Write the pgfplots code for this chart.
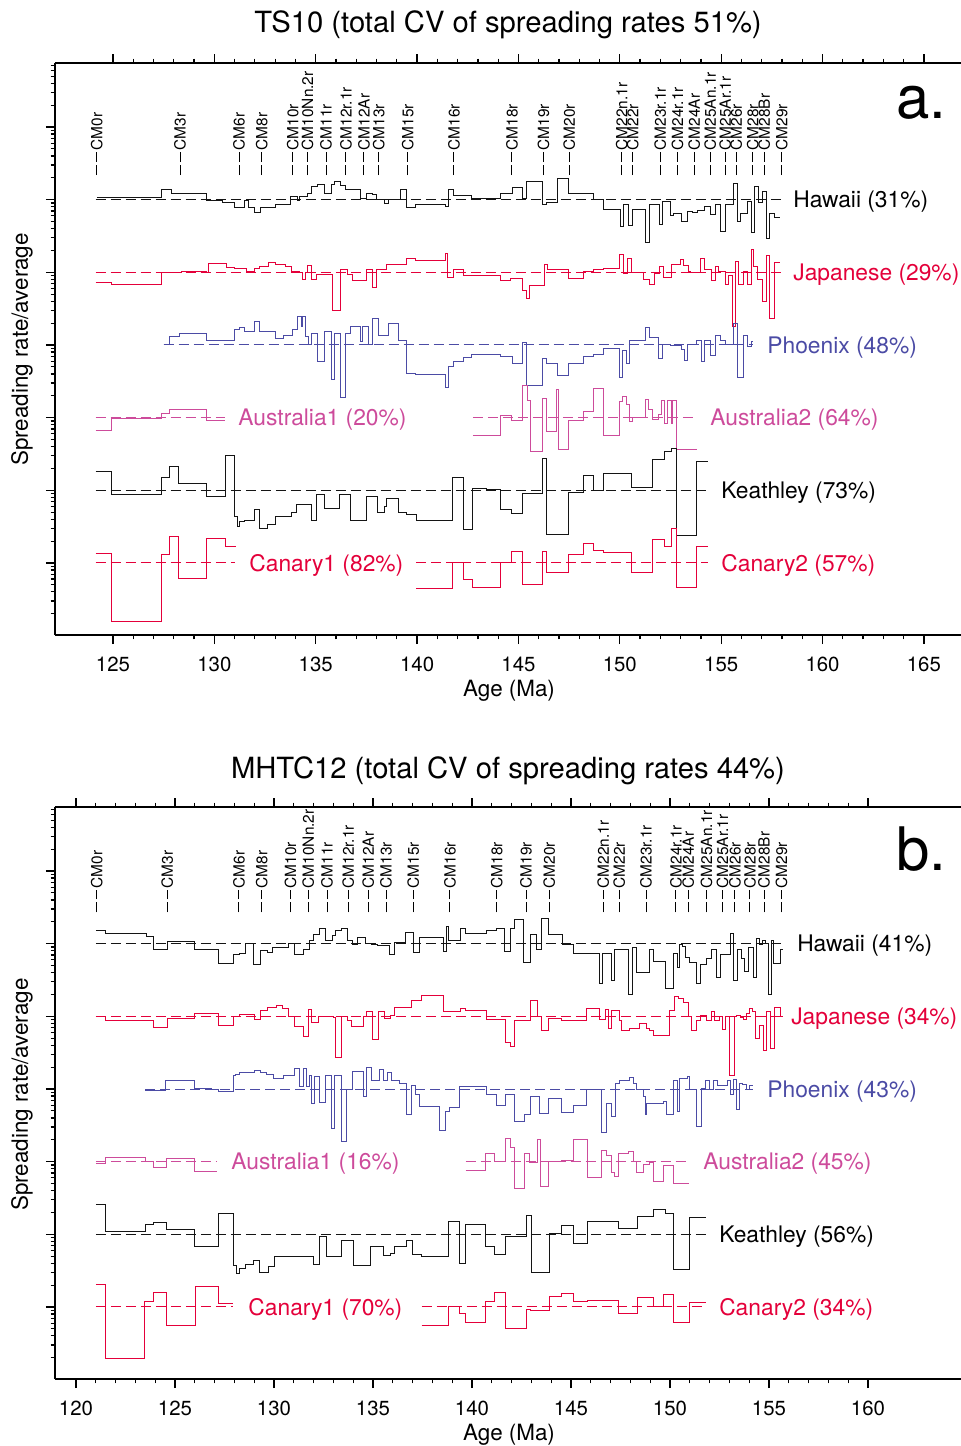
\documentclass[border=0pt]{standalone}
\usepackage{fontspec}
\setmainfont{TeX Gyre Heros}
\usepackage{pgfplots}
\usepackage{pgfplotstable}
\pgfplotsset{compat=1.18}
\definecolor{cred}{RGB}{228,0,58}
\definecolor{cblue}{RGB}{75,75,165}
\definecolor{cpink}{RGB}{205,75,155}
\definecolor{cblk}{RGB}{20,20,20}

\pgfplotstableread{
x r
124.2 1.07
127.4 1.37
127.9 1.23
129.6 0.98
130.4 0.90
131.0 0.77
131.5 0.98
131.7 0.77
132.0 0.67
132.3 0.77
133.0 0.85
133.75 1.11
134.1 0.98
134.2 1.11
134.6 1.23
134.8 1.52
135.1 1.61
135.45 1.23
135.8 1.61
135.95 1.77
136.2 1.55
136.45 1.37
137.2 1.05
137.5 1.23
137.8 1.18
138.0 1.0
138.4 0.88
138.6 1.02
139.2 1.37
139.5 0.77
139.9 0.85
141.4 0.80
141.55 1.40
141.8 1.13
142.7 1.05
144.1 1.23
144.7 1.47
145.2 1.05
145.4 1.77
146.2 0.85
146.4 0.92
146.95 1.93
147.45 1.20
148.7 1.0
149.2 0.74
150.05 0.43
150.2 0.85
150.45 0.44
150.65 0.74
151.25 0.26
151.45 0.85
151.95 0.45
152.1 0.95
152.5 0.60
152.65 0.64
153.05 0.50
153.35 0.69
153.6 0.66
153.85 0.71
154.2 0.81
154.45 0.62
154.7 0.85
154.95 0.36
155.2 0.85
155.6 1.69
155.8 0.50
155.95 0.65
156.3 0.95
156.5 0.35
156.65 1.50
156.85 0.90
157.05 1.30
157.25 0.29
157.4 0.65
157.65 0.57
157.9 0.57
}\HawA
\pgfplotstableread{
x r
124.15 0.72
124.95 0.68
127.4 0.98
127.6 1.0
128.4 1.03
129.6 1.0
129.7 1.32
130.6 1.16
131.0 1.12
131.6 1.04
132.0 1.12
132.25 1.20
132.65 1.36
133.0 1.29
133.5 1.20
133.8 1.04
134.2 0.98
134.35 0.79
134.5 0.98
134.6 1.25
134.8 0.79
135.05 0.94
135.85 0.30
136.2 1.11
136.55 0.94
136.8 0.77
137.5 1.11
137.8 0.61
138.0 1.11
138.5 1.27
139.5 1.57
139.9 1.45
141.4 1.80
141.5 0.85
141.8 1.08
142.3 0.90
144.1 0.77
144.6 0.81
145.2 0.57
145.4 0.43
145.55 0.65
146.3 1.30
146.45 1.11
147.45 0.81
148.2 1.03
148.7 1.08
149.2 1.14
150.0 1.75
150.2 0.95
150.4 1.57
150.6 1.0
151.15 0.79
151.45 0.67
151.7 0.97
151.95 1.20
152.15 0.85
152.55 1.27
153.0 1.52
153.15 1.25
153.4 1.03
153.5 1.0
154.0 1.57
154.2 1.08
154.5 0.77
154.7 1.20
154.85 1.04
155.2 0.69
155.35 0.90
155.55 0.18
155.7 1.40
155.85 0.69
156.1 1.04
156.3 0.69
156.5 2.05
156.6 1.20
156.8 0.79
157.05 0.40
157.25 1.70
157.4 0.23
157.65 1.37
157.9 1.37
}\JapA
\pgfplotstableread{
x r
127.5 1.0
127.8 1.30
128.3 1.42
129.6 1.17
131.0 1.61
131.25 1.75
131.5 1.53
132.0 2.09
132.25 1.53
133.0 1.23
133.4 1.37
133.85 1.61
134.1 2.45
134.3 1.79
134.35 2.45
134.5 1.30
134.65 1.0
134.8 1.45
135.1 0.59
135.45 1.53
135.8 0.33
135.95 1.45
136.2 0.19
136.45 1.45
136.7 1.80
137.2 1.11
137.3 1.80
137.6 1.0
137.8 2.3
138.1 1.37
138.6 1.95
139.1 1.17
139.5 0.41
139.9 0.39
141.4 0.26
141.55 0.50
141.8 0.60
142.3 0.67
142.7 0.75
144.1 0.69
144.7 0.55
145.2 1.07
145.4 0.28
146.2 0.65
146.4 0.55
146.95 0.38
147.45 0.55
148.2 0.69
148.7 0.73
149.2 0.90
150.0 0.36
150.15 0.85
150.35 0.55
150.5 1.17
151.25 1.75
151.45 1.27
151.9 0.65
152.1 1.02
152.5 0.97
153.05 0.88
153.2 0.62
153.35 1.0
153.8 1.17
154.05 0.59
154.2 1.17
154.45 0.72
154.7 1.33
154.95 1.17
155.2 1.02
155.6 2.0
155.8 0.36
156.1 1.37
156.3 0.95
156.5 1.10
156.55 1.10
}\PhoA
\pgfplotstableread{
x r
124.15 0.66
124.95 0.96
127.4 1.15
127.8 1.30
129.6 0.90
130.55 0.90
}\AusOneA
\pgfplotstableread{
x r
142.75 0.56
144.1 1.06
144.65 0.91
145.2 2.73
145.45 1.71
145.6 0.34
146.2 1.84
146.4 0.64
146.9 2.45
147.0 0.36
147.45 0.90
148.2 1.21
148.7 2.53
149.2 0.56
150.0 1.65
150.15 1.98
150.35 1.50
150.5 0.88
150.65 1.02
151.25 1.75
151.4 1.28
151.6 0.95
151.9 1.12
152.07 1.70
152.2 0.83
152.35 1.70
152.55 0.83
152.62 1.70
152.8 0.36
153.8 0.36
}\AusTwoA
\pgfplotstableread{
x r
124.15 1.79
124.95 0.88
127.4 1.49
127.8 2.14
128.25 1.23
129.6 0.81
130.55 3.03
131.0 0.43
131.15 0.32
131.25 0.37
131.5 0.38
132.0 0.54
132.25 0.30
132.6 0.34
133.0 0.44
133.8 0.50
134.05 0.63
134.8 0.39
135.05 0.88
135.45 0.56
136.15 0.88
136.7 0.39
137.5 0.83
138.05 0.50
138.4 0.60
138.5 0.78
139.1 0.50
139.5 0.47
139.95 0.39
141.75 1.49
142.3 0.29
142.75 1.05
143.4 1.03
144.1 0.54
144.65 0.48
145.2 0.90
146.2 2.73
146.4 0.25
147.45 0.94
148.2 1.60
148.7 0.98
149.2 1.68
150.6 1.11
151.6 2.64
152.2 3.4
152.55 3.73
152.8 0.24
153.8 2.5
154.35 2.5
}\KeaA
\pgfplotstableread{
x r
124.15 1.37
124.95 0.158
127.4 1.32
127.8 2.28
128.25 0.62
129.6 2.2
130.55 1.71
131.05 1.71
}\CanOneA
\pgfplotstableread{
x r
139.95 0.44
141.75 1.0
142.3 0.59
142.75 0.46
144.1 1.0
144.65 1.45
145.2 0.50
146.2 1.42
146.4 0.75
147.45 1.30
148.2 1.84
148.7 1.50
149.2 1.40
150.6 0.75
151.6 2.1
152.2 1.66
152.55 2.95
152.8 0.46
153.8 1.71
154.35 1.71
}\CanTwoA

\pgfplotstableread{
x r
121.0 1.51
121.5 1.36
123.55 1.25
123.9 0.82
124.6 1.08
126.0 0.82
127.2 0.54
127.95 0.72
128.25 0.74
128.55 1.0
128.95 0.52
129.3 0.80
129.65 0.75
129.95 0.90
130.45 0.88
130.75 1.0
131.05 0.72
131.5 0.82
131.8 1.10
132.0 1.33
132.3 1.64
132.6 1.12
132.95 1.30
133.1 1.54
133.4 1.60
133.7 1.10
133.95 0.97
134.2 1.22
134.6 1.0
134.95 0.97
135.25 0.94
135.85 0.72
136.1 1.04
136.65 1.43
137.05 0.76
137.35 1.22
138.55 0.78
138.7 1.72
138.8 1.10
139.4 1.60
139.65 1.36
140.75 1.50
141.25 1.64
141.65 0.78
141.95 1.64
142.15 2.18
142.6 0.55
142.95 1.33
143.25 0.84
143.5 2.25
143.85 1.33
144.55 0.97
145.15 0.74
146.46 0.285
146.6 0.736
147.05 0.31
147.22 0.82
147.9 0.199
148.1 0.89
148.3 0.40
148.99 0.82
149.16 0.57
149.75 0.245
150.17 0.736
150.37 0.47
150.5 0.97
150.64 0.91
150.8 0.65
150.97 0.55
151.35 0.285
151.52 0.52
151.85 0.62
152.1 0.82
152.36 0.34
152.53 0.71
152.78 0.72
153.07 1.36
153.23 0.31
153.4 0.82
153.62 0.62
153.79 0.42
153.99 0.89
154.21 0.34
154.38 1.16
154.51 0.97
154.68 1.12
154.85 1.0
154.97 0.199
155.14 1.12
155.25 0.54
155.56 0.82
155.72 0.82
}\HawB
\pgfplotstableread{
x r
121.0 1.0
121.5 0.88
123.9 0.70
124.6 0.93
126.0 1.11
127.2 0.75
127.95 1.0
128.25 1.07
129.0 0.90
129.3 1.20
129.65 1.34
130.15 1.42
130.45 1.28
130.75 0.98
131.05 0.73
131.48 0.53
131.73 1.23
131.9 0.82
132.24 1.0
133.0 0.95
133.13 0.27
133.42 1.0
133.72 0.88
133.92 0.73
134.5 1.0
134.68 1.15
135.0 0.48
135.27 1.18
135.6 0.93
135.86 1.03
136.1 1.34
136.95 1.66
137.46 1.94
138.55 1.15
139.4 1.28
139.65 1.20
140.75 0.90
141.67 0.43
141.95 0.39
142.17 0.88
142.96 1.63
143.3 1.0
143.52 0.64
143.85 0.93
144.53 0.88
145.8 1.28
146.46 0.90
146.72 1.23
146.88 0.68
147.05 1.21
147.47 0.88
147.56 0.64
147.98 0.68
148.48 0.79
148.82 0.68
148.99 0.63
149.16 0.55
150.0 1.21
150.25 1.85
150.42 1.75
150.67 1.57
150.92 0.98
151.1 0.64
151.35 0.88
151.52 1.03
151.85 0.88
152.1 1.15
152.27 0.88
152.49 0.98
152.66 0.66
152.83 0.98
153.03 0.154
153.25 0.98
153.37 1.03
153.54 0.96
153.7 0.90
153.87 1.09
154.04 1.27
154.18 1.15
154.34 0.49
154.51 0.75
154.71 0.34
154.88 1.18
155.08 0.36
155.3 1.34
155.56 1.0
155.72 1.0
}\JapB
\pgfplotstableread{
x r
123.5 0.94
124.53 1.30
126.0 1.02
126.85 1.0
127.2 0.92
127.95 1.51
128.08 1.56
128.28 1.68
129.04 1.79
129.3 1.68
129.63 1.56
129.97 1.40
130.47 1.51
131.02 1.92
131.31 1.08
131.48 1.92
131.62 1.08
131.78 1.51
131.9 0.63
132.07 1.48
132.32 0.65
132.58 1.51
132.91 0.29
133.08 1.51
133.42 0.19
133.67 1.0
133.97 1.73
134.51 0.78
134.68 2.0
134.93 1.33
135.35 1.83
135.52 1.30
135.72 1.68
135.94 1.33
136.33 1.20
136.67 0.44
136.95 1.13
137.17 0.83
137.37 0.57
138.38 0.27
138.64 0.49
138.89 0.56
139.39 1.08
140.75 0.85
141.25 0.60
141.67 0.83
142.17 0.355
142.63 0.44
142.97 0.80
143.43 0.46
143.85 0.74
144.53 0.47
145.15 0.60
145.8 1.0
146.55 0.25
146.77 0.63
147.05 0.42
147.27 1.20
147.47 1.33
147.98 1.45
148.15 1.20
148.32 0.97
148.65 0.78
148.74 0.44
148.82 0.635
149.66 0.67
149.83 0.45
150.17 1.30
150.37 0.49
150.5 1.40
150.88 1.48
151.01 1.0
151.35 0.30
151.6 1.02
151.82 1.33
151.99 0.97
152.19 1.33
152.39 1.13
152.56 1.10
152.9 1.33
153.07 0.83
153.23 1.36
153.37 0.525
153.5 1.20
153.67 1.17
153.87 0.97
154.04 1.13
154.18 1.13
}\PhoB
\pgfplotstableread{
x r
121.0 0.93
121.5 1.15
123.52 1.0
123.9 0.84
124.58 1.12
126.01 0.74
127.14 0.74
}\AusOneB
\pgfplotstableread{
x r
139.68 0.76
140.69 1.31
141.16 1.0
141.67 2.07
141.95 1.59
142.17 0.43
142.63 1.31
142.93 0.96
143.3 2.0
143.47 0.45
143.85 1.0
144.53 1.03
145.15 2.0
145.82 0.61
146.55 1.43
146.77 1.21
147.05 0.70
147.22 0.63
147.39 1.31
147.9 1.39
148.15 1.0
148.32 0.71
148.65 0.91
148.95 0.97
149.19 0.54
149.66 0.88
150.17 0.50
150.98 0.50
}\AusTwoB
\pgfplotstableread{
x r
121.0 2.56
121.5 1.11
123.52 1.36
123.9 1.45
124.58 1.17
126.01 0.69
127.19 1.92
127.95 0.37
128.12 0.29
128.28 0.34
128.54 0.39
128.99 0.44
129.29 0.30
129.71 0.36
130.02 0.50
130.44 0.49
131.06 0.50
131.98 0.39
132.29 0.94
132.63 0.50
133.42 0.83
134.0 0.37
134.88 0.67
135.52 0.51
135.9 0.54
136.11 0.68
136.67 0.83
137.0 0.53
137.46 0.50
138.8 1.51
139.39 0.40
139.68 1.37
140.69 0.67
141.16 0.53
141.67 0.92
142.37 0.94
142.73 1.82
143.01 0.30
143.9 1.02
144.53 1.33
145.15 0.74
145.82 1.48
147.39 1.20
148.35 1.77
149.19 2.18
149.75 1.92
150.2 0.33
150.98 1.68
151.82 1.68
}\KeaB
\pgfplotstableread{
x r
121.0 2.05
121.5 0.196
123.48 1.18
123.93 1.57
124.58 0.56
126.04 1.90
127.19 1.10
127.95 1.10
}\CanOneB
\pgfplotstableread{
x r
137.46 0.56
138.8 1.0
139.39 0.82
139.68 0.61
140.69 1.18
141.16 1.57
141.67 0.50
142.73 0.93
142.96 0.89
143.9 1.39
144.53 1.54
145.15 1.18
145.82 1.22
147.39 0.82
148.35 1.36
149.19 1.0
149.69 1.49
150.2 0.62
150.98 1.15
151.82 1.15
}\CanTwoB

\tikzset{
  myChron/.style={line width=0.5pt, black, dash pattern=on 5pt off 1.5pt},
  myChronLbl/.style={rotate=90, anchor=west, inner sep=0.6pt, font=\fontsize{7.7}{9}\selectfont},
  myLbl/.style={anchor=west, inner sep=0pt, yshift=-1.2pt, font=\fontsize{11.4}{13}\selectfont},
  mySer/.style={line width=0.5pt},
  myBase/.style={line width=0.5pt, dash pattern=on 5pt off 2.5pt},
}
\newcommand{\chA}[2]{\draw[myChron] (axis cs:#1,2.17e5) -- (axis cs:#1,4.55e5) node[myChronLbl] {#2};}
\newcommand{\chB}[2]{\draw[myChron] (axis cs:#1,2.7e5) -- (axis cs:#1,5.5e5) node[myChronLbl] {#2};}

\begin{document}
\begin{tikzpicture}
\path[use as bounding box] (0,0) rectangle (480.5pt,-723pt);

% ================= Panel a =================
\begin{axis}[scale only axis, width=453pt, height=286pt,
    at={(27.5pt,-317.5pt)}, anchor=south west,
    xmin=122.14, xmax=166.83, xtick={125,130,135,140,145,150,155,160,165},
    ymode=log, ymin=0.102, ymax=7600000,
    axis y line*=left,
    clip=false,
    ytick={0.1,1,10,100,1000,10000,100000,1000000},
    minor ytick={0.2,0.3,0.4,0.5,0.6,0.7,0.8,0.9,2,3,4,5,6,7,8,9,20,30,40,50,60,70,80,90,200,300,400,500,600,700,800,900,2000,3000,4000,5000,6000,7000,8000,9000,20000,30000,40000,50000,60000,70000,80000,90000,200000,300000,400000,500000,600000,700000,800000,900000,2000000,3000000,4000000,5000000,6000000,7000000},
    yticklabels={},
    minor x tick num=4,
    tick align=outside,
    major tick length=4.5pt, minor tick length=2.2pt,
    tick style={black, line width=0.6pt},
    axis line style={line width=0.7pt},
    xticklabel style={font=\fontsize{10.2}{12}\selectfont, yshift=-3pt},
    /pgf/number format/assume math mode=true]
\addplot[const plot, mySer, cblk] table[x=x, y expr=\thisrow{r}*100000] {\HawA};
\addplot[const plot, mySer, cred] table[x=x, y expr=\thisrow{r}*10000] {\JapA};
\addplot[const plot, mySer, cblue] table[x=x, y expr=\thisrow{r}*1000] {\PhoA};
\addplot[const plot, mySer, cpink] table[x=x, y expr=\thisrow{r}*100] {\AusOneA};
\addplot[const plot, mySer, cpink] table[x=x, y expr=\thisrow{r}*100] {\AusTwoA};
\addplot[const plot, mySer, cblk] table[x=x, y expr=\thisrow{r}*10] {\KeaA};
\addplot[const plot, mySer, cred] table[x=x, y=r] {\CanOneA};
\addplot[const plot, mySer, cred] table[x=x, y=r] {\CanTwoA};
\addplot[myBase, cblk] coordinates {(124.15,100000) (158.0,100000)};
\addplot[myBase, cred] coordinates {(124.15,10000) (158.0,10000)};
\addplot[myBase, cblue] coordinates {(127.5,1000) (156.55,1000)};
\addplot[myBase, cpink] coordinates {(124.15,100) (130.55,100)};
\addplot[myBase, cpink] coordinates {(142.75,100) (153.8,100)};
\addplot[myBase, cblk] coordinates {(124.15,10) (154.35,10)};
\addplot[myBase, cred] coordinates {(124.15,1) (131.0,1)};
\addplot[myBase, cred] coordinates {(139.95,1) (154.35,1)};
\chA{124.20}{CM0r}
\chA{128.31}{CM3r}
\chA{131.22}{CM6r}
\chA{132.34}{CM8r}
\chA{133.87}{CM10r}
\chA{134.59}{CM10Nn.2r}
\chA{135.51}{CM11r}
\chA{136.49}{CM12r.1r}
\chA{137.38}{CM12Ar}
\chA{138.11}{CM13r}
\chA{139.54}{CM15r}
\chA{141.82}{CM16r}
\chA{144.68}{CM18r}
\chA{146.23}{CM19r}
\chA{147.51}{CM20r}
\chA{150.10}{CM22n.1r}
\chA{150.64}{CM22r}
\chA{151.99}{CM23r.1r}
\chA{152.84}{CM24r.1r}
\chA{153.67}{CM24Ar}
\chA{154.46}{CM25An.1r}
\chA{155.20}{CM25Ar.1r}
\chA{155.74}{CM26r}
\chA{156.56}{CM28r}
\chA{157.12}{CM28Br}
\chA{157.99}{CM29r}
\node[myLbl, text=black] at (axis cs:158.54,100000) {Hawaii (31\%)};
\node[myLbl, text=cred] at (axis cs:158.54,10000) {Japanese (29\%)};
\node[myLbl, text=cblue] at (axis cs:157.26,1000) {Phoenix (48\%)};
\node[myLbl, text=cpink] at (axis cs:131.17,100) {Australia1 (20\%)};
\node[myLbl, text=cpink] at (axis cs:154.45,100) {Australia2 (64\%)};
\node[myLbl, text=black] at (axis cs:154.99,10) {Keathley (73\%)};
\node[myLbl, text=cred] at (axis cs:131.71,1) {Canary1 (82\%)};
\node[myLbl, text=cred] at (axis cs:154.99,1) {Canary2 (57\%)};
\node[anchor=base east, inner sep=0pt, font=\fontsize{30}{36}\selectfont] at (axis cs:166.13,1320000) {a.};
\end{axis}

% ================= Panel b =================
\begin{axis}[scale only axis, width=453pt, height=286pt,
    at={(27.5pt,-689.5pt)}, anchor=south west,
    xmin=118.94, xmax=164.70, xtick={120,125,130,135,140,145,150,155,160},
    ymode=log, ymin=0.102, ymax=7600000,
    axis y line*=left,
    clip=false,
    ytick={0.1,1,10,100,1000,10000,100000,1000000},
    minor ytick={0.2,0.3,0.4,0.5,0.6,0.7,0.8,0.9,2,3,4,5,6,7,8,9,20,30,40,50,60,70,80,90,200,300,400,500,600,700,800,900,2000,3000,4000,5000,6000,7000,8000,9000,20000,30000,40000,50000,60000,70000,80000,90000,200000,300000,400000,500000,600000,700000,800000,900000,2000000,3000000,4000000,5000000,6000000,7000000},
    yticklabels={},
    minor x tick num=4,
    tick align=outside,
    major tick length=4.5pt, minor tick length=2.2pt,
    tick style={black, line width=0.6pt},
    axis line style={line width=0.7pt},
    xticklabel style={font=\fontsize{10.2}{12}\selectfont, yshift=-3pt},
    /pgf/number format/assume math mode=true]
\addplot[const plot, mySer, cblk] table[x=x, y expr=\thisrow{r}*100000] {\HawB};
\addplot[const plot, mySer, cred] table[x=x, y expr=\thisrow{r}*10000] {\JapB};
\addplot[const plot, mySer, cblue] table[x=x, y expr=\thisrow{r}*1000] {\PhoB};
\addplot[const plot, mySer, cpink] table[x=x, y expr=\thisrow{r}*100] {\AusOneB};
\addplot[const plot, mySer, cpink] table[x=x, y expr=\thisrow{r}*100] {\AusTwoB};
\addplot[const plot, mySer, cblk] table[x=x, y expr=\thisrow{r}*10] {\KeaB};
\addplot[const plot, mySer, cred] table[x=x, y=r] {\CanOneB};
\addplot[const plot, mySer, cred] table[x=x, y=r] {\CanTwoB};
\addplot[myBase, cblk] coordinates {(121.0,100000) (155.75,100000)};
\addplot[myBase, cred] coordinates {(121.0,10000) (155.75,10000)};
\addplot[myBase, cblue] coordinates {(123.5,1000) (154.18,1000)};
\addplot[myBase, cpink] coordinates {(121.0,100) (127.14,100)};
\addplot[myBase, cpink] coordinates {(139.68,100) (150.98,100)};
\addplot[myBase, cblk] coordinates {(121.0,10) (151.82,10)};
\addplot[myBase, cred] coordinates {(121.0,1) (127.95,1)};
\addplot[myBase, cred] coordinates {(137.46,1) (151.82,1)};
\chB{121.05}{CM0r}
\chB{124.61}{CM3r}
\chB{128.23}{CM6r}
\chB{129.38}{CM8r}
\chB{130.84}{CM10r}
\chB{131.73}{CM10Nn.2r}
\chB{132.68}{CM11r}
\chB{133.75}{CM12r.1r}
\chB{134.76}{CM12Ar}
\chB{135.66}{CM13r}
\chB{137.04}{CM15r}
\chB{138.89}{CM16r}
\chB{141.25}{CM18r}
\chB{142.73}{CM19r}
\chB{143.90}{CM20r}
\chB{146.63}{CM22n.1r}
\chB{147.44}{CM22r}
\chB{148.79}{CM23r.1r}
\chB{150.30}{CM24r.1r}
\chB{150.92}{CM24Ar}
\chB{151.85}{CM25An.1r}
\chB{152.66}{CM25Ar.1r}
\chB{153.28}{CM26r}
\chB{154.04}{CM28r}
\chB{154.75}{CM28Br}
\chB{155.64}{CM29r}
\node[myLbl, text=black] at (axis cs:156.41,100000) {Hawaii (41\%)};
\node[myLbl, text=cred] at (axis cs:156.11,10000) {Japanese (34\%)};
\node[myLbl, text=cblue] at (axis cs:154.90,1000) {Phoenix (43\%)};
\node[myLbl, text=cpink] at (axis cs:127.83,100) {Australia1 (16\%)};
\node[myLbl, text=cpink] at (axis cs:151.67,100) {Australia2 (45\%)};
\node[myLbl, text=black] at (axis cs:152.47,10) {Keathley (56\%)};
\node[myLbl, text=cred] at (axis cs:128.69,1) {Canary1 (70\%)};
\node[myLbl, text=cred] at (axis cs:152.47,1) {Canary2 (34\%)};
\node[anchor=base east, inner sep=0pt, font=\fontsize{30}{36}\selectfont] at (axis cs:163.99,1020000) {b.};
\end{axis}

\node[anchor=base, inner sep=0pt, font=\fontsize{14.6}{17}\selectfont] at (254pt,-16pt) {TS10 (total CV of spreading rates 51\%)};
\node[anchor=base, inner sep=0pt, font=\fontsize{14.6}{17}\selectfont] at (254pt,-389pt) {MHTC12 (total CV of spreading rates 44\%)};
\node[anchor=base, inner sep=0pt, font=\fontsize{11.2}{13}\selectfont] at (254.5pt,-348pt) {Age (Ma)};
\node[anchor=base, inner sep=0pt, font=\fontsize{11.2}{13}\selectfont] at (254.5pt,-720pt) {Age (Ma)};
\node[rotate=90, inner sep=0pt, font=\fontsize{11.2}{13}\selectfont] at (11pt,-174.75pt) {Spreading rate/average};
\node[rotate=90, inner sep=0pt, font=\fontsize{11.2}{13}\selectfont] at (11pt,-547.25pt) {Spreading rate/average};
\end{tikzpicture}
\end{document}
